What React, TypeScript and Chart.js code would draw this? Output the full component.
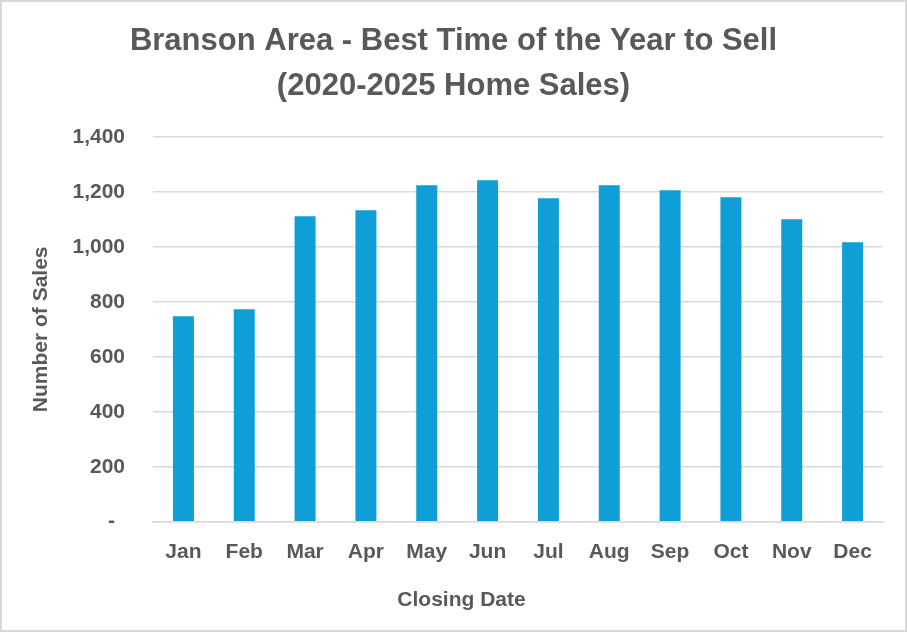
import React, { useEffect, useRef } from "react";
import { Chart, registerables } from "chart.js";

Chart.register(...registerables);

// Monthly closed home sales, Branson area, 2020-2025 combined
const months = ["Jan", "Feb", "Mar", "Apr", "May", "Jun", "Jul", "Aug", "Sep", "Oct", "Nov", "Dec"];
const sales = [748, 773, 1112, 1133, 1224, 1243, 1177, 1224, 1206, 1181, 1101, 1017];

const titleLines = ["Branson Area - Best Time of the Year to Sell", "(2020-2025 Home Sales)"];
const yAxisTitle = "Number of Sales";
const xAxisTitle = "Closing Date";
// accounting-style labels, zero shown as a dash
const yTickLabels = ["- \u2009", "200", "400", "600", "800", "1,000", "1,200", "1,400"];

const TEXT = "#595959";
const GRID = "#d9d9d9";
const BAR = "#0F9ED5";
const FONT = "'Liberation Sans', Arial, sans-serif";

const W = 903;
const H = 628;
const SIDE_PAD = 22;

// bottom axis title, centred on the whole chart rather than on the plot
const xTitlePlugin = {
  id: "xTitle",
  afterDraw(chart: any) {
    const { ctx, chartArea } = chart;
    ctx.save();
    ctx.font = `bold 21px ${FONT}`;
    ctx.fillStyle = TEXT;
    ctx.textAlign = "center";
    ctx.textBaseline = "middle";
    ctx.fillText(xAxisTitle, chart.width / 2 + 8, chartArea.bottom + 79);
    ctx.restore();
  },
};

export default function App() {
  const canvasRef = useRef<HTMLCanvasElement | null>(null);

  useEffect(() => {
    if (!canvasRef.current) return;
    const chart = new Chart(canvasRef.current, {
      type: "bar",
      data: {
        labels: months,
        datasets: [
          {
            data: sales,
            backgroundColor: BAR,
            borderWidth: 0,
            categoryPercentage: 1,
            barPercentage: 0.345,
          },
        ],
      },
      plugins: [xTitlePlugin],
      options: {
        responsive: false,
        animation: false,
        layout: { padding: { left: SIDE_PAD, right: SIDE_PAD, top: 0, bottom: 0 } },
        plugins: {
          legend: { display: false },
          tooltip: { enabled: false },
          title: {
            display: true,
            text: titleLines,
            color: TEXT,
            font: { family: FONT, size: 31, weight: "bold", lineHeight: "45px" },
            padding: { top: 17, bottom: 28 },
          },
        },
        scales: {
          x: {
            grid: { display: false, drawTicks: false },
            border: { display: true, color: GRID, width: 1.5 },
            ticks: {
              color: TEXT,
              font: { family: FONT, size: 21, weight: "bold" },
              padding: 18,
              maxRotation: 0,
            },
            afterFit(scale: any) {
              scale.height = 108.3;
            },
          },
          y: {
            min: 0,
            max: 1400,
            grid: { color: GRID, lineWidth: 1.5, drawTicks: false },
            border: { display: false },
            ticks: {
              stepSize: 200,
              color: TEXT,
              font: { family: FONT, size: 21, weight: "bold" },
              padding: 28,
              callback: (_v: any, i: number) => yTickLabels[i],
            },
            title: {
              display: true,
              text: yAxisTitle,
              color: TEXT,
              font: { family: FONT, size: 21, weight: "bold" },
              padding: { top: 27 - SIDE_PAD, bottom: 0 },
            },
            afterFit(scale: any) {
              scale.width = 151 - SIDE_PAD;
            },
          },
        },
      },
    });
    return () => chart.destroy();
  }, []);

  return (
    <div
      style={{
        position: "fixed",
        left: 0,
        top: 0,
        width: 907,
        height: 632,
        boxSizing: "border-box",
        border: `2px solid ${GRID}`,
        background: "#fff",
      }}
    >
      <canvas ref={canvasRef} width={W} height={H} style={{ width: W, height: H, display: "block" }} />
    </div>
  );
}
